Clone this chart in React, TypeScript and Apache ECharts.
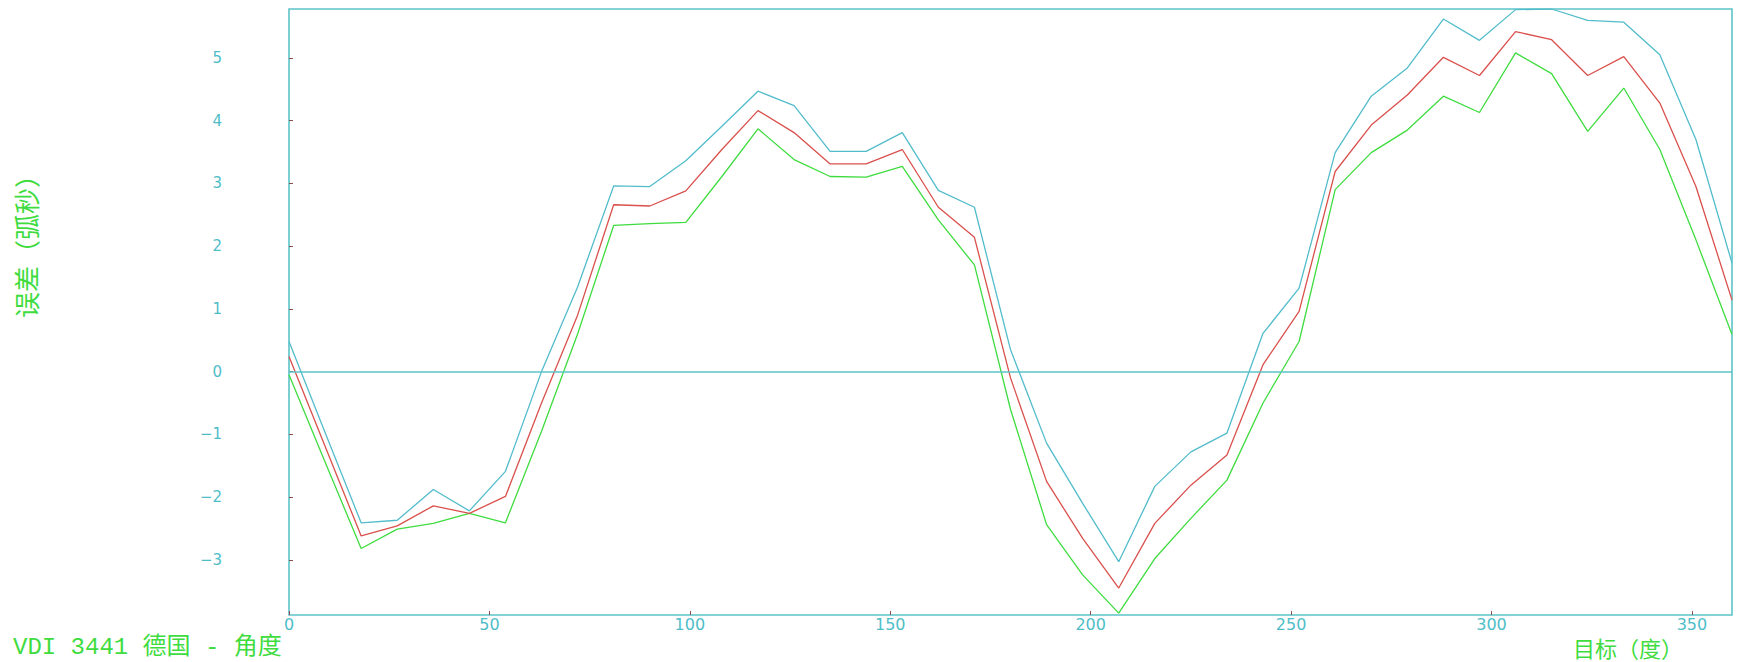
import React, { useEffect, useRef } from "react";
import * as echarts from "echarts";

const degrees = [0, 9, 18, 27, 36, 45, 54, 63, 72, 81, 90, 99, 108, 117, 126, 135, 144, 153, 162, 171, 180, 189, 198, 207, 216, 225, 234, 243, 252, 261, 270, 279, 288, 297, 306, 315, 324, 333, 342, 351, 360];

const upperErr = [0.48, -0.97, -2.41, -2.37, -1.88, -2.22, -1.59, 0.0, 1.35, 2.96, 2.95, 3.36, 3.91, 4.47, 4.24, 3.51, 3.51, 3.81, 2.89, 2.62, 0.35, -1.14, -2.10, -3.03, -1.83, -1.28, -0.98, 0.61, 1.33, 3.49, 4.39, 4.84, 5.62, 5.28, 5.77, 5.78, 5.6, 5.57, 5.05, 3.70, 1.73];

const meanErr = [0.24, -1.19, -2.62, -2.46, -2.14, -2.26, -1.99, -0.5, 0.9, 2.66, 2.64, 2.88, 3.54, 4.16, 3.81, 3.31, 3.31, 3.54, 2.62, 2.14, -0.1, -1.75, -2.66, -3.45, -2.42, -1.81, -1.33, 0.11, 0.96, 3.19, 3.93, 4.41, 5.01, 4.72, 5.42, 5.29, 4.72, 5.02, 4.28, 2.95, 1.14];

const lowerErr = [-0.05, -1.44, -2.82, -2.51, -2.42, -2.26, -2.41, -0.95, 0.6, 2.33, 2.36, 2.38, 3.11, 3.87, 3.38, 3.11, 3.10, 3.27, 2.42, 1.70, -0.6, -2.44, -3.24, -3.85, -2.98, -2.34, -1.73, -0.50, 0.48, 2.90, 3.49, 3.85, 4.39, 4.13, 5.08, 4.75, 3.83, 4.52, 3.54, 2.10, 0.59];

const xTickValues = [0, 50, 100, 150, 200, 250, 300, 350];
const yTickValues = [-3, -2, -1, 0, 1, 2, 3, 4, 5];

const yAxisTitle = "误差（弧秒）";
const xAxisTitle = "目标（度）";
const bottomTitle = "VDI 3441 德国 - 角度";

const CYAN = "#52bccb";
const FRAME = "#5cc3c9";
const RED = "#d9504c";
const GREEN = "#3fdc3f";
const LABEL = "#4fbdc8";
const TICK = "#8a5050";

export default function App() {
  const ref = useRef<HTMLDivElement>(null);
  useEffect(() => {
    document.body.style.margin = "0";
    if (!ref.current) return;
    const chart = echarts.init(ref.current, undefined, { renderer: "svg" });
    const pair = (arr: number[]) => degrees.map((d, i) => [d, arr[i]]);
    const fmt = (v: number) => (v < 0 ? "\u2212" + Math.abs(v) : String(v));
    chart.setOption({
      animation: false,
      backgroundColor: "#ffffff",
      grid: {
        left: 289,
        top: 9,
        right: 5,
        bottom: 47,
        show: true,
        borderColor: FRAME,
        borderWidth: 1.6,
        backgroundColor: "transparent",
      },
      xAxis: {
        type: "value",
        min: 0,
        max: 360,
        axisLine: { show: false, onZero: false },
        splitLine: { show: false },
        axisTick: {
          show: true,
          inside: true,
          length: 4,
          customValues: xTickValues,
          lineStyle: { color: TICK, width: 1 },
        },
        axisLabel: {
          customValues: xTickValues,
          color: LABEL,
          fontFamily: "DejaVu Sans",
          fontSize: 16,
          margin: 1,
          formatter: fmt,
        },
      },
      yAxis: {
        type: "value",
        min: -3.88,
        max: 5.78,
        axisLine: { show: false, onZero: false },
        splitLine: { show: false },
        axisTick: {
          show: true,
          inside: true,
          length: 4,
          customValues: yTickValues,
          lineStyle: { color: TICK, width: 1 },
        },
        axisLabel: {
          customValues: yTickValues,
          color: LABEL,
          fontFamily: "DejaVu Sans",
          fontSize: 15,
          margin: 67,
          formatter: fmt,
        },
      },
      graphic: [
        {
          type: "text",
          x: 25,
          y: 240,
          rotation: Math.PI / 2,
          style: {
            text: yAxisTitle,
            fill: GREEN,
            font: '26px "Noto Sans CJK SC"',
            textAlign: "center",
            textVerticalAlign: "middle",
          },
        },
        {
          type: "text",
          x: 1628,
          y: 647,
          style: {
            text: xAxisTitle,
            fill: GREEN,
            font: '22px "Noto Sans CJK SC"',
            textAlign: "center",
            textVerticalAlign: "middle",
          },
        },
        {
          type: "text",
          x: 13,
          y: 635,
          style: {
            text: bottomTitle,
            fill: GREEN,
            font: '24px "Liberation Mono", "Noto Sans CJK SC"',
            textAlign: "left",
            textVerticalAlign: "top",
          },
        },
      ],
      series: [
        {
          type: "line",
          name: "lower",
          data: pair(lowerErr),
          showSymbol: false,
          lineStyle: { color: GREEN, width: 1.3 },
          z: 2,
          markLine: {
            silent: true,
            symbol: "none",
            label: { show: false },
            lineStyle: { color: FRAME, width: 1.5, type: "solid" },
            data: [{ yAxis: 0 }],
          },
        },
        {
          type: "line",
          name: "mean",
          data: pair(meanErr),
          showSymbol: false,
          lineStyle: { color: RED, width: 1.3 },
          z: 3,
        },
        {
          type: "line",
          name: "upper",
          data: pair(upperErr),
          showSymbol: false,
          lineStyle: { color: CYAN, width: 1.3 },
          z: 4,
        },
      ],
    });
    return () => chart.dispose();
  }, []);
  return <div ref={ref} style={{ width: 1737, height: 662 }} />;
}
